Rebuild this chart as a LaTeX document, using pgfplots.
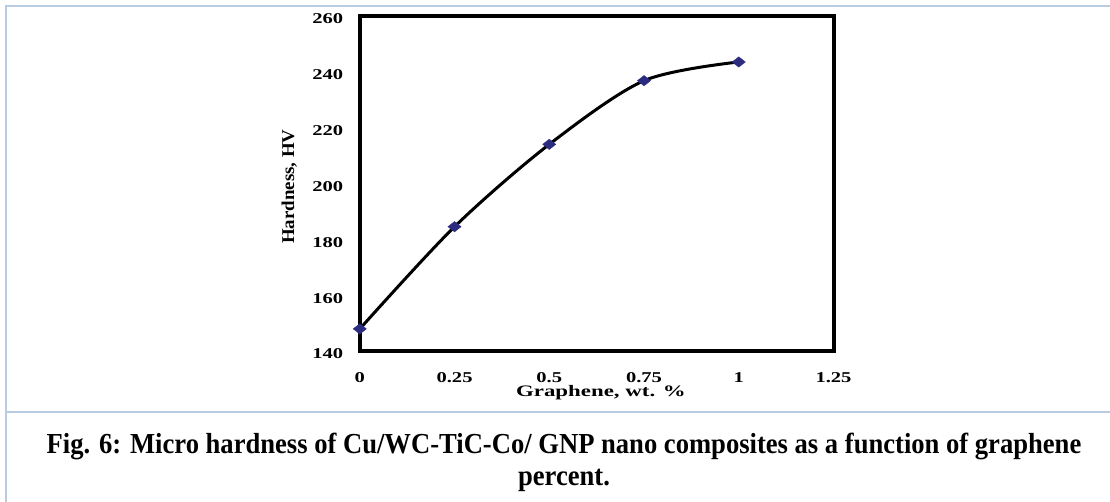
\documentclass[border=0pt]{standalone}
\usepackage{pgfplots}
\pgfplotsset{compat=1.18}
\usepackage{fontspec}
\setmainfont{Liberation Serif}
\definecolor{frameblue}{RGB}{184,204,228}
\definecolor{navy}{RGB}{43,43,128}
\newcommand\tk[1]{\scalebox{1.37}[1]{\textbf{#1}}}
\begin{document}
\begin{tikzpicture}
\useasboundingbox (0,0) rectangle (1110bp,502bp);
\fill[white] (0,0) rectangle (1110bp,502bp);
\draw[frameblue, line width=2bp] (6bp,0) -- (6bp,495.5bp) -- (1110bp,495.5bp);
\draw[frameblue, line width=2bp] (6bp,90bp) -- (1110bp,90bp);
\begin{axis}[
  at={(359.8bp,150.8bp)}, anchor=south west,
  scale only axis, width=473.7bp, height=335bp,
  xmin=0, xmax=1.25, ymin=140, ymax=260,
  xtick={0,0.25,0.5,0.75,1,1.25},
  xticklabels={\tk{0},\tk{0.25},\tk{0.5},\tk{0.75},\tk{1},\tk{1.25}},
  ytick={140,160,180,200,220,240,260},
  yticklabels={\tk{140},\tk{160},\tk{180},\tk{200},\tk{220},\tk{240},\tk{260}},
  major tick length=0,
  axis line style={line width=4bp, line join=miter},
  tick label style={font=\fontsize{15bp}{18bp}\selectfont, inner sep=0pt},
  xticklabel style={anchor=base, yshift=-31.8bp},
  yticklabel style={anchor=east, xshift=-16.5bp, yshift=-2.8bp},
  xlabel={\scalebox{1.43}[1]{\textbf{Graphene, wt. \%}}},
  xlabel style={at={(axis description cs:0.509,-0.1367)}, anchor=base, font=\fontsize{16bp}{19bp}\selectfont, inner sep=0pt},
  ylabel={\scalebox{1.05}[1]{\textbf{Hardness, HV}}},
  ylabel style={at={(axis description cs:-0.1389,0.491)}, anchor=base, font=\fontsize{18bp}{21bp}\selectfont, inner sep=0pt},
  clip=false,
]
\addplot[black, line width=3bp, smooth, mark=diamond*, mark size=5.2bp,
  mark options={fill=navy, draw=navy, line width=0.3bp, xscale=1.7}]
  coordinates {(0,148) (0.25,184.6) (0.5,214.1) (0.75,236.9) (1,243.6)};
\end{axis}
\node[anchor=base] at (564bp,48bp) {\fontsize{29bp}{33bp}\selectfont\scalebox{0.917}[1]{\textbf{Fig. 6: Micro hardness of Cu/WC-TiC-Co/ GNP nano composites as a function of graphene}}};
\node[anchor=base] at (564bp,16.3bp) {\fontsize{29bp}{33bp}\selectfont\scalebox{0.917}[1]{\textbf{percent.}}};
\end{tikzpicture}
\end{document}
